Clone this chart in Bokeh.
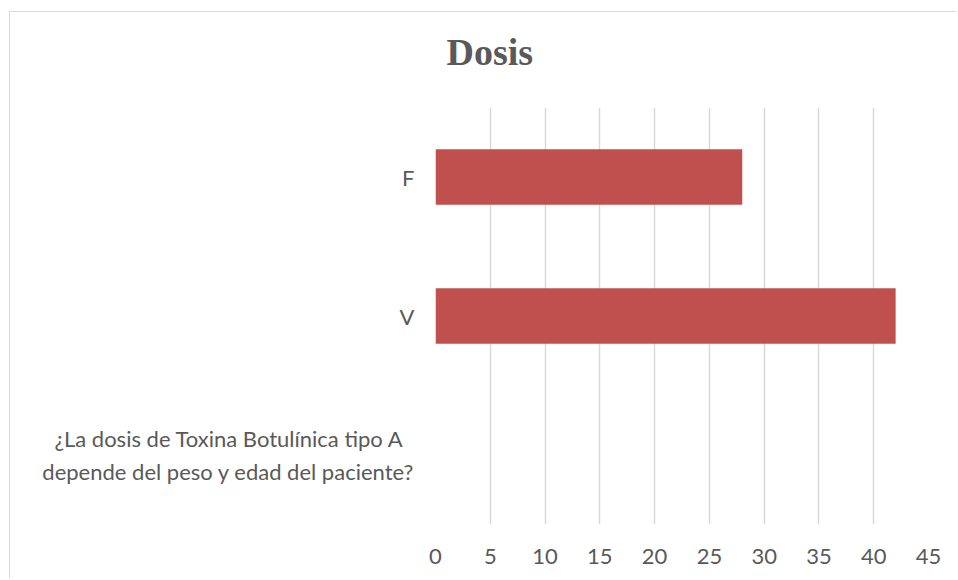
from bokeh.plotting import figure
from bokeh.models import FactorRange, Range1d, FixedTicker, Title
from bokeh.embed import file_html
from bokeh.resources import INLINE

# Data
question_lines = ["¿La dosis de Toxina Botulínica tipo A\u00a0\u00a0", "depende del peso y edad del paciente?"]
question = "\n".join(question_lines)
categories = [question, "V", "F"]
values = [0, 42, 28]
x_ticks = [0, 5, 10, 15, 20, 25, 30, 35, 40, 45]
title_text = "Dosis"

GRAY = "#595959"
BAR = "#c0504d"

p = figure(
    width=947, height=567, title=None,
    y_range=FactorRange(factors=categories),
    x_range=Range1d(0, 45),
    output_backend="svg", toolbar_location=None,
    min_border_left=425, min_border_right=29,
    min_border_top=95, min_border_bottom=55,
)

p.hbar(y=categories, right=values, height=0.4, fill_color=BAR, line_color=None)

# spacer between the frame and the title (nearest the frame), then the title
p.add_layout(Title(text=" ", text_font_size="2px", standoff=14), "above")
p.add_layout(Title(
    text=title_text, align="left", offset=11, standoff=33,
    text_font="Liberation Serif", text_font_style="bold",
    text_font_size="38px", text_color=GRAY,
), "above")

p.outline_line_color = None
p.ygrid.grid_line_color = None
p.xgrid.grid_line_color = "#d9d9d9"
p.xgrid.grid_line_width = 1.5
p.xaxis.ticker = FixedTicker(ticks=x_ticks)

for ax in (p.xaxis, p.yaxis):
    ax.axis_line_color = None
    ax.major_tick_line_color = None
    ax.minor_tick_line_color = None
    ax.major_label_text_color = GRAY
    ax.major_label_text_font = "Lato"
    ax.major_label_text_font_size = "22px"

p.xaxis.major_label_standoff = 18
p.yaxis.major_label_standoff = 15

p.styles = {
    "border-top": "1px solid #d9d9d9",
    "border-left": "1px solid #d9d9d9",
    "margin-left": "9px",
    "margin-top": "11px",
}

open("out.html", "w").write(file_html(p, INLINE))
